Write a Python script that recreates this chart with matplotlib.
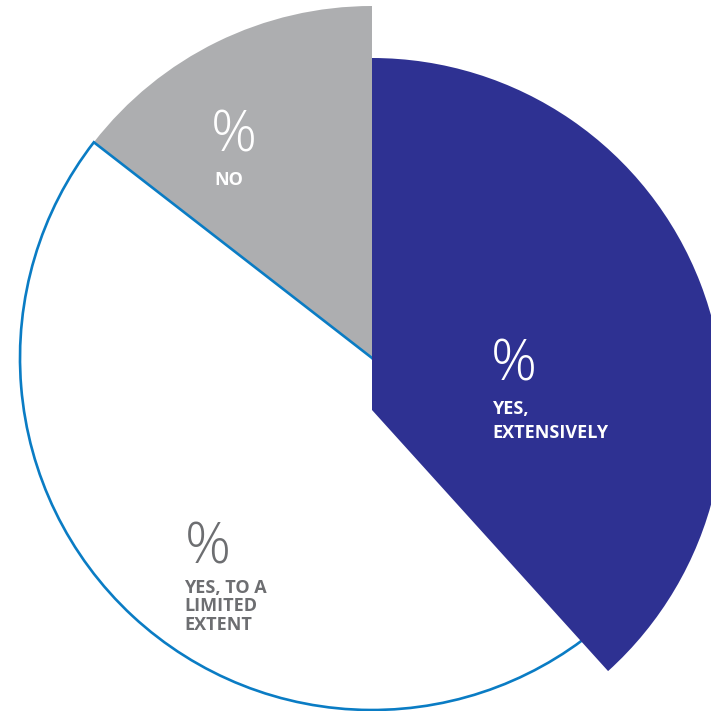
import matplotlib
matplotlib.use('Agg')
import matplotlib.pyplot as plt

# share of answers, clockwise from 12 o'clock
labels = ['YES,\nEXTENSIVELY', 'YES, TO A\nLIMITED\nEXTENT', 'NO']
shares = [38.3, 47.2, 14.5]
colors = ['#2e3192', '#ffffff', '#adaeb0']
text_colors = ['#ffffff', '#6d6e71', '#ffffff']

W = H = 711
fig = plt.figure(figsize=(W / 100, H / 100), dpi=100)
ax = fig.add_axes([0, 0, 1, 1])

cx, cy, r = 372, H - 358, 352
wedges, _ = ax.pie(shares, colors=colors, startangle=90, counterclock=False,
                   radius=r, center=(cx, cy))

# white slice gets the blue outline, the dark slice is pushed down
wedges[1].set_edgecolor('#0a7cc4')
wedges[1].set_linewidth(1.9)
wedges[2].set_zorder(1)
wedges[1].set_zorder(2)
wedges[0].set_zorder(3)
wedges[0].set_center((cx, cy - 52))

# label anchors: (left, top) of the "%" sign and of the caption, in pixels from top-left
pct_pos = [(491, 337), (185, 520), (211, 108)]
cap_pos = [(492, 400), (184, 579), (214, 171)]
cap_spacing = [1.43, 1.02, 1.0]

for i in range(len(labels)):
    px, py = pct_pos[i]
    ax.text(px, H - py, '%', fontsize=41, fontweight='light', family='Open Sans',
            color=text_colors[i], ha='left', va='top', zorder=5)
    qx, qy = cap_pos[i]
    ax.text(qx, H - qy, labels[i], fontsize=13, fontweight='bold', family='Open Sans',
            color=text_colors[i], ha='left', va='top', linespacing=cap_spacing[i], zorder=5)

ax.set_xlim(0, W)
ax.set_ylim(0, H)
ax.set_aspect('equal')
ax.axis('off')

fig.savefig('out.png', dpi=100)
